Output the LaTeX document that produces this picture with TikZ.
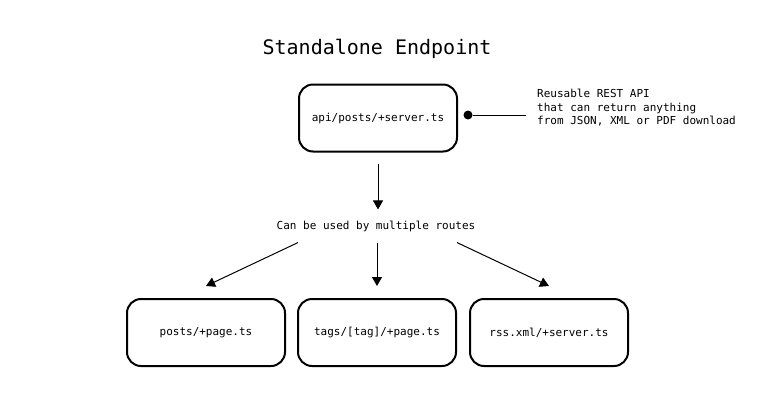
\documentclass[tikz,border=0pt]{standalone}
\usepackage{fontspec}
\setmonofont{DejaVu Sans Mono}
\usetikzlibrary{arrows.meta,calc}
\tikzset{
  >={Triangle[length=9pt,width=10pt]},
  route/.style = {
    draw, line width=2, rounded corners=14,
    minimum width=158, minimum height=67,
    font=\ttfamily\fontsize{11}{13.5}\selectfont
  },
  label/.style = {font=\ttfamily\fontsize{11}{13.5}\selectfont, inner sep=0},
  pin/.style = {circle, fill, inner sep=0, minimum size=9},
  link/.style = {line width=1}
}
\begin{document}
\begin{tikzpicture}[x=1pt,y=-1pt]
  \useasboundingbox (0,0) rectangle (759,407);
  \node[font=\ttfamily\fontsize{20}{24}\selectfont] (title) at (377,49) {Standalone Endpoint};
  % endpoint
  \node[route] (api) at (378,118) {api/posts/+server.ts};
  \node[pin] (dot) at (468,115) {};
  \coordinate (noteend) at (526,115);
  \draw[link] (dot) -- (noteend);
  \node[label, anchor=west, align=left] (note) at (537,108)
    {Reusable REST API\\that can return anything\\from JSON, XML or PDF download};
  % routes
  \node[label] (uses) at (376,226) {Can be used by multiple routes};
  \node[route] (posts) at (206,332.5) {posts/+page.ts};
  \node[route] (tags) at (377,332.5) {tags/[tag]/+page.ts};
  \node[route] (rss) at (549,332.5) {rss.xml/+server.ts};
  \draw[link,->] ([yshift=-11]api.south) -- ([yshift=11]uses.north -| api.south);
  \draw[link,->] ($(uses.south)+(-78,11)$) -- ([yshift=12]posts.north);
  \draw[link,->] ($(uses.south -| tags.north)+(0,11)$) -- ([yshift=12]tags.north);
  \draw[link,->] ($(uses.south)+(81,11)$) -- ([yshift=12]rss.north);
\end{tikzpicture}
\end{document}
